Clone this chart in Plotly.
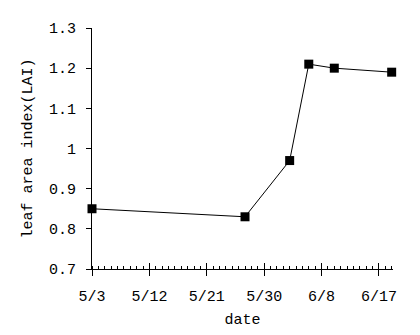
import plotly.graph_objects as go

dates = ["2023-05-03", "2023-05-27", "2023-06-03", "2023-06-06", "2023-06-10", "2023-06-19"]
lai = [0.85, 0.83, 0.97, 1.21, 1.20, 1.19]
tick_dates = ["2023-05-03", "2023-05-12", "2023-05-21", "2023-05-30", "2023-06-08", "2023-06-17"]
tick_labels = ["5/3", "5/12", "5/21", "5/30", "6/8", "6/17"]

FONT = "Liberation Mono"
xr = ["2023-05-03", "2023-06-19 05:00"]

fig = go.Figure()
fig.add_trace(go.Scatter(
    x=dates, y=lai, mode="lines+markers",
    line=dict(color="black", width=1),
    marker=dict(symbol="square", size=9, color="black"),
    showlegend=False, cliponaxis=False,
))
fig.add_trace(go.Scatter(x=[dates[0]], y=[lai[0]], xaxis="x2", mode="markers",
                         marker=dict(opacity=0), showlegend=False, hoverinfo="skip"))

fig.update_layout(
    width=420, height=335,
    margin=dict(l=92, r=27, t=28, b=66),
    paper_bgcolor="white", plot_bgcolor="white",
    font=dict(family=FONT, size=15, color="black"),
    xaxis=dict(
        type="date", range=xr, automargin=False,
        tickvals=tick_dates, ticktext=tick_labels,
        ticks="outside", ticklen=6, tickcolor="black", tickwidth=1,
        showline=True, linecolor="black", linewidth=1,
        showgrid=False, zeroline=False,
        minor=dict(dtick=86400000, tick0="2023-05-03", ticks="inside", ticklen=3,
                   tickcolor="black", tickwidth=1, showgrid=False),
        ticklabelstandoff=7,
        title=dict(text="date", font=dict(family=FONT, size=15), standoff=8),
        tickfont=dict(family=FONT, size=15),
    ),
    xaxis2=dict(
        type="date", range=xr, overlaying="x", anchor="y", automargin=False,
        tickvals=tick_dates, ticktext=["" for _ in tick_labels],
        ticks="inside", ticklen=6, tickcolor="black", tickwidth=1,
        showline=False, showgrid=False, zeroline=False, showticklabels=False,
        side="bottom",
    ),
    yaxis=dict(
        range=[0.7, 1.3], automargin=False,
        tickvals=[0.7, 0.8, 0.9, 1.0, 1.1, 1.2, 1.3],
        ticktext=["0.7", "0.8", "0.9", "1", "1.1", "1.2", "1.3"],
        ticks="outside", ticklen=5, tickcolor="black", tickwidth=1,
        showline=True, linecolor="black", linewidth=1,
        showgrid=False, zeroline=False,
        ticklabelstandoff=7,
        title=dict(text="leaf area index(LAI)", font=dict(family=FONT, size=15), standoff=12),
        tickfont=dict(family=FONT, size=15),
    ),
)

fig.write_html("out.html")
